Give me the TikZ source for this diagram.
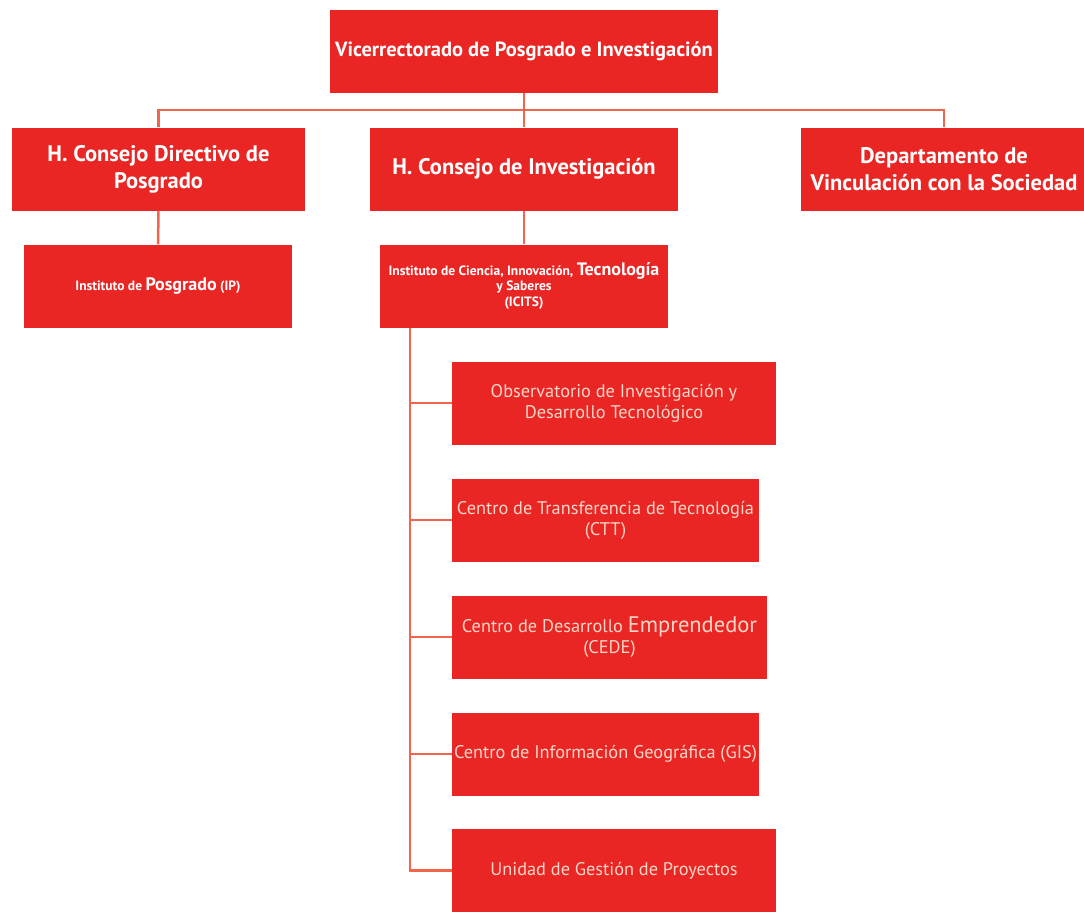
\documentclass[tikz,border=0pt]{standalone}
\usepackage{fontspec}
\setmainfont{PT Sans}
\definecolor{boxred}{RGB}{234,38,37}
\definecolor{linkred}{RGB}{242,100,76}
\definecolor{softpink}{RGB}{250,214,200}
\tikzset{
  box/.style={fill=boxred, text=white, inner sep=0pt, align=center, minimum height=83pt},
  head/.style={box, font=\bfseries\fontsize{22.5}{27}\selectfont},
  inst/.style={box, font=\bfseries\fontsize{13.5}{16}\selectfont},
  unit/.style={box, text=softpink, font=\fontsize{18.3}{21}\selectfont},
  link/.style={draw=linkred, line width=2.5pt}
}
\newcommand{\bigword}[1]{{\fontsize{18}{18}\selectfont #1}}
\begin{document}
\begin{tikzpicture}[x=1pt, y=-1pt]
    \useasboundingbox[fill=white] (0,0) rectangle (1084,911);
    % top level
    \node[head, minimum width=388pt, font=\bfseries\fontsize{20.5}{25}\selectfont] (vice) at (524,51.5) {Vicerrectorado de Posgrado e Investigación};
    \node[head, minimum width=293pt] (cdp) at (158.5,169) {H. Consejo Directivo de\\Posgrado};
    \node[head, minimum width=308pt] (ci) at (524,169) {H. Consejo de Investigación};
    \node[head, minimum width=286pt] (dvs) at (944,169) {Departamento de\\Vinculación con la Sociedad};
    % institutes
    \node[inst, minimum width=268pt] (ip) at (158,286) {Instituto de \bigword{Posgrado} (IP)};
    \node[inst, minimum width=288pt] (icits) at (524,286) {Instituto de Ciencia, Innovación, \bigword{Tecnología}\\[-1pt]y Saberes\\(ICITS)};
    % units
    \node[unit, minimum width=324pt] (obs) at (614,403) {Observatorio de Investigación y\\Desarrollo Tecnológico};
    \node[unit, minimum width=307pt] (ctt) at (605.5,520) {Centro de Transferencia de Tecnología\\(CTT)};
    \node[unit, minimum width=315pt] (cede) at (609.5,637) {Centro de Desarrollo {\fontsize{22.5}{22}\selectfont Emprendedor}\\(CEDE)};
    \node[unit, minimum width=307pt] (gis) at (605.5,754) {Centro de Información Geográfica (GIS)};
    \node[unit, minimum width=324pt] (ugp) at (614,870.5) {Unidad de Gestión de Proyectos};
    \coordinate (bus) at (524,110);
    \coordinate (trunk) at (410,328);
    % connectors
    \draw[link] (vice.south) -- (ci.north);
    \draw[link] (bus) -| (cdp.north);
    \draw[link] (bus) -| (dvs.north);
    \draw[link] (cdp.south) -- (ip.north);
    \draw[link] (ci.south) -- (icits.north);
    \foreach \u in {obs,ctt,cede,gis,ugp}
      \draw[link] (trunk) |- (\u.west);
\end{tikzpicture}
\end{document}
